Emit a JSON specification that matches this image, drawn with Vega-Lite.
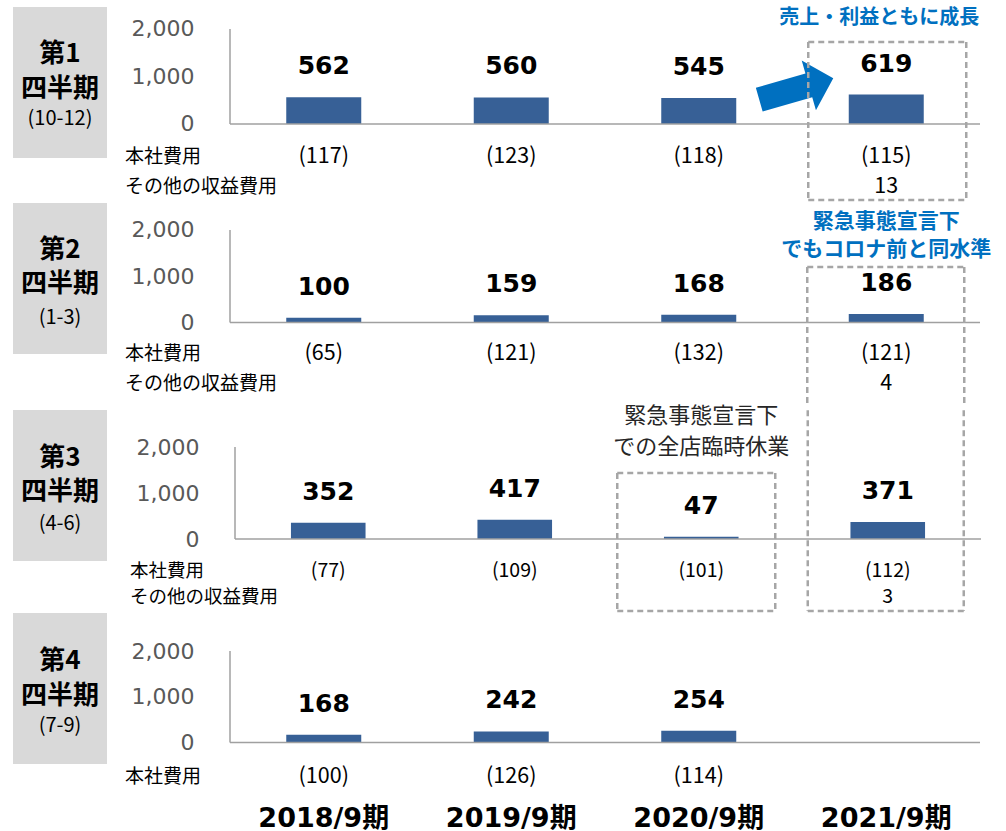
{
  "$schema": "https://vega.github.io/schema/vega-lite/v6.json",
  "padding": {"left": 13, "top": 0, "right": 0, "bottom": 0},
  "background": "white",
  "spacing": 0,
  "datasets": {
    "d": [
      {"q": "Q1", "year": "2018/9期", "profit": 562, "hq": -117, "other": null},
      {"q": "Q1", "year": "2019/9期", "profit": 560, "hq": -123, "other": null},
      {"q": "Q1", "year": "2020/9期", "profit": 545, "hq": -118, "other": null},
      {"q": "Q1", "year": "2021/9期", "profit": 619, "hq": -115, "other": 13},
      {"q": "Q2", "year": "2018/9期", "profit": 100, "hq": -65, "other": null},
      {"q": "Q2", "year": "2019/9期", "profit": 159, "hq": -121, "other": null},
      {"q": "Q2", "year": "2020/9期", "profit": 168, "hq": -132, "other": null},
      {"q": "Q2", "year": "2021/9期", "profit": 186, "hq": -121, "other": 4},
      {"q": "Q3", "year": "2018/9期", "profit": 352, "hq": -77, "other": null},
      {"q": "Q3", "year": "2019/9期", "profit": 417, "hq": -109, "other": null},
      {"q": "Q3", "year": "2020/9期", "profit": 47, "hq": -101, "other": null},
      {"q": "Q3", "year": "2021/9期", "profit": 371, "hq": -112, "other": 3},
      {"q": "Q4", "year": "2018/9期", "profit": 168, "hq": -100, "other": null},
      {"q": "Q4", "year": "2019/9期", "profit": 242, "hq": -126, "other": null},
      {"q": "Q4", "year": "2020/9期", "profit": 254, "hq": -114, "other": null}
    ]
  },
  "vconcat": [
    {
      "spacing": 18,
      "hconcat": [
        {
          "width": 94, "height": 202,
          "data": {"values": [{}]},
          "layer": [
            {"mark": {"type": "rect", "color": "#D9D9D9"},
             "encoding": {"x": {"datum": 0, "type": "quantitative", "scale": {"domain": [0, 1]}, "axis": null}, "x2": {"datum": 1},
                          "y": {"datum": 2463, "type": "quantitative", "scale": {"domain": [-1642, 2610], "nice": false, "zero": false}, "axis": null}, "y2": {"datum": -716}}},
            {"mark": {"type": "text", "text": "第1", "font": "Noto Sans CJK JP", "fontWeight": "bold", "fontSize": 26, "baseline": "middle"},
             "encoding": {"x": {"datum": 0.5, "type": "quantitative"}, "y": {"datum": 1470, "type": "quantitative"}}},
            {"mark": {"type": "text", "text": "四半期", "font": "Noto Sans CJK JP", "fontWeight": "bold", "fontSize": 26, "baseline": "middle"},
             "encoding": {"x": {"datum": 0.5, "type": "quantitative"}, "y": {"datum": 740, "type": "quantitative"}}},
            {"mark": {"type": "text", "text": "(10-12)", "font": "Noto Sans CJK JP", "fontSize": 20, "baseline": "middle"},
             "encoding": {"x": {"datum": 0.5, "type": "quantitative"}, "y": {"datum": 110, "type": "quantitative"}}}
          ]
        },
        {
          "width": 750, "height": 202,
          "layer": [
            {"data": {"name": "d"}, "transform": [{"filter": "datum.q === 'Q1'"}],
             "mark": {"type": "bar", "color": "#376096"},
             "encoding": {
               "x": {"field": "year", "type": "nominal", "scale": {"domain": ["2018/9期", "2019/9期", "2020/9期", "2021/9期"], "paddingInner": 0.6, "paddingOuter": 0.3}, "axis": null},
               "y": {"field": "profit", "type": "quantitative", "scale": {"domain": [-1642, 2610], "nice": false, "zero": false},
                     "axis": {"values": [0, 1000, 2000], "format": ",.0f", "domain": false, "ticks": false, "grid": false, "labelFont": "DejaVu Sans", "labelFontSize": 22, "labelColor": "#595959", "labelPadding": 36, "title": null}},
               "y2": {"datum": 0}}},
            {"data": {"name": "d"}, "transform": [{"filter": "datum.q === 'Q1'"}],
             "mark": {"type": "text", "font": "DejaVu Sans", "fontWeight": "bold", "fontSize": 25, "dy": -31, "baseline": "middle", "color": "#000000"},
             "encoding": {"x": {"field": "year", "type": "nominal"}, "y": {"field": "profit", "type": "quantitative"}, "text": {"field": "profit", "type": "quantitative"}}},
            {"data": {"name": "d"}, "transform": [{"filter": "datum.q === 'Q1'"}],
             "mark": {"type": "text", "font": "Noto Sans CJK JP", "fontSize": 21.5, "baseline": "middle", "color": "#000000"},
             "encoding": {"x": {"field": "year", "type": "nominal"}, "y": {"datum": -695}, "text": {"field": "hq", "type": "quantitative", "format": "(d"}}},
            {"data": {"name": "d"}, "transform": [{"filter": "datum.q === 'Q1' && datum.other != null"}],
             "mark": {"type": "text", "font": "Noto Sans CJK JP", "fontSize": 21.5, "baseline": "middle", "color": "#000000"},
             "encoding": {"x": {"field": "year", "type": "nominal"}, "y": {"datum": -1326}, "text": {"field": "other", "type": "quantitative"}}},
            {"data": {"values": [{}]}, "mark": {"type": "rule", "color": "#A0A0A0", "strokeWidth": 1.5}, "encoding": {"y": {"datum": 0}}},
            {"data": {"values": [{}]}, "mark": {"type": "rule", "color": "#A0A0A0", "strokeWidth": 1.5, "xOffset": -93.75},
             "encoding": {"x": {"datum": "2018/9期"}, "y": {"datum": 0}, "y2": {"datum": 2000}}},
            {"data": {"values": [{}]}, "mark": {"type": "text", "text": "本社費用", "font": "Noto Sans CJK JP", "fontSize": 19, "align": "left", "baseline": "middle", "dx": -198.75, "color": "#000000"},
             "encoding": {"x": {"datum": "2018/9期"}, "y": {"datum": -695}}},
            {"data": {"values": [{}]}, "mark": {"type": "text", "text": "その他の収益費用", "font": "Noto Sans CJK JP", "fontSize": 19, "align": "left", "baseline": "middle", "dx": -198.75, "color": "#000000"},
             "encoding": {"x": {"datum": "2018/9期"}, "y": {"datum": -1326}}},
            {"data": {"values": [{}]}, "mark": {"type": "text", "text": "売上・利益ともに成長", "font": "Noto Sans CJK JP", "fontWeight": "bold", "fontSize": 20, "baseline": "middle", "dx": -7, "color": "#0070C0"},
             "encoding": {"x": {"datum": "2021/9期"}, "y": {"datum": 2230}}},
            {"data": {"values": [{}]}, "mark": {"type": "point", "shape": "M -1 -0.32 L 0.34 -0.32 L 0.34 -0.67 L 1 0 L 0.34 0.67 L 0.34 0.32 L -1 0.32 Z", "filled": true, "color": "#0070C0", "opacity": 1, "size": 5929, "angle": -16, "xOffset": -90, "strokeWidth": 0},
             "encoding": {"x": {"datum": "2021/9期"}, "y": {"datum": 737}}},
            {"data": {"values": [{}]}, "mark": {"type": "rule", "color": "#A6A6A6", "strokeWidth": 2.5, "strokeDash": [6, 4], "xOffset": -78, "x2Offset": 80},
             "encoding": {"x": {"datum": "2021/9期"}, "x2": {"datum": "2021/9期"}, "y": {"datum": 1726}}},
            {"data": {"values": [{}]}, "mark": {"type": "rule", "color": "#A6A6A6", "strokeWidth": 2.5, "strokeDash": [6, 4], "xOffset": -78, "x2Offset": 80},
             "encoding": {"x": {"datum": "2021/9期"}, "x2": {"datum": "2021/9期"}, "y": {"datum": -1600}}},
            {"data": {"values": [{}]}, "mark": {"type": "rule", "color": "#A6A6A6", "strokeWidth": 2.5, "strokeDash": [6, 4], "xOffset": -78},
             "encoding": {"x": {"datum": "2021/9期"}, "y": {"datum": 1726}, "y2": {"datum": -1600}}},
            {"data": {"values": [{}]}, "mark": {"type": "rule", "color": "#A6A6A6", "strokeWidth": 2.5, "strokeDash": [6, 4], "xOffset": 80},
             "encoding": {"x": {"datum": "2021/9期"}, "y": {"datum": 1726}, "y2": {"datum": -1600}}}
          ]
        }
      ]
    },
    {
      "spacing": 18,
      "hconcat": [
        {
          "width": 94, "height": 202,
          "data": {"values": [{}]},
          "layer": [
            {"mark": {"type": "rect", "color": "#D9D9D9"},
             "encoding": {"x": {"datum": 0, "type": "quantitative", "scale": {"domain": [0, 1]}, "axis": null}, "x2": {"datum": 1},
                          "y": {"datum": 2583, "type": "quantitative", "scale": {"domain": [-1762, 2605], "nice": false, "zero": false}, "axis": null}, "y2": {"datum": -681}}},
            {"mark": {"type": "text", "text": "第2", "font": "Noto Sans CJK JP", "fontWeight": "bold", "fontSize": 26, "baseline": "middle"},
             "encoding": {"x": {"datum": 0.5, "type": "quantitative"}, "y": {"datum": 1575, "type": "quantitative"}}},
            {"mark": {"type": "text", "text": "四半期", "font": "Noto Sans CJK JP", "fontWeight": "bold", "fontSize": 26, "baseline": "middle"},
             "encoding": {"x": {"datum": 0.5, "type": "quantitative"}, "y": {"datum": 830, "type": "quantitative"}}},
            {"mark": {"type": "text", "text": "(1-3)", "font": "Noto Sans CJK JP", "fontSize": 20, "baseline": "middle"},
             "encoding": {"x": {"datum": 0.5, "type": "quantitative"}, "y": {"datum": 105, "type": "quantitative"}}}
          ]
        },
        {
          "width": 750, "height": 202,
          "layer": [
            {"data": {"name": "d"}, "transform": [{"filter": "datum.q === 'Q2'"}],
             "mark": {"type": "bar", "color": "#376096"},
             "encoding": {
               "x": {"field": "year", "type": "nominal", "scale": {"domain": ["2018/9期", "2019/9期", "2020/9期", "2021/9期"], "paddingInner": 0.6, "paddingOuter": 0.3}, "axis": null},
               "y": {"field": "profit", "type": "quantitative", "scale": {"domain": [-1762, 2605], "nice": false, "zero": false},
                     "axis": {"values": [0, 1000, 2000], "format": ",.0f", "domain": false, "ticks": false, "grid": false, "labelFont": "DejaVu Sans", "labelFontSize": 22, "labelColor": "#595959", "labelPadding": 36, "title": null}},
               "y2": {"datum": 0}}},
            {"data": {"name": "d"}, "transform": [{"filter": "datum.q === 'Q2'"}],
             "mark": {"type": "text", "font": "DejaVu Sans", "fontWeight": "bold", "fontSize": 25, "dy": -31, "baseline": "middle", "color": "#000000"},
             "encoding": {"x": {"field": "year", "type": "nominal"}, "y": {"field": "profit", "type": "quantitative"}, "text": {"field": "profit", "type": "quantitative"}}},
            {"data": {"name": "d"}, "transform": [{"filter": "datum.q === 'Q2'"}],
             "mark": {"type": "text", "font": "Noto Sans CJK JP", "fontSize": 21.5, "baseline": "middle", "color": "#000000"},
             "encoding": {"x": {"field": "year", "type": "nominal"}, "y": {"datum": -681}, "text": {"field": "hq", "type": "quantitative", "format": "(d"}}},
            {"data": {"name": "d"}, "transform": [{"filter": "datum.q === 'Q2' && datum.other != null"}],
             "mark": {"type": "text", "font": "Noto Sans CJK JP", "fontSize": 21.5, "baseline": "middle", "color": "#000000"},
             "encoding": {"x": {"field": "year", "type": "nominal"}, "y": {"datum": -1330}, "text": {"field": "other", "type": "quantitative"}}},
            {"data": {"values": [{}]}, "mark": {"type": "rule", "color": "#A0A0A0", "strokeWidth": 1.5}, "encoding": {"y": {"datum": 0}}},
            {"data": {"values": [{}]}, "mark": {"type": "rule", "color": "#A0A0A0", "strokeWidth": 1.5, "xOffset": -93.75},
             "encoding": {"x": {"datum": "2018/9期"}, "y": {"datum": 0}, "y2": {"datum": 2000}}},
            {"data": {"values": [{}]}, "mark": {"type": "text", "text": "本社費用", "font": "Noto Sans CJK JP", "fontSize": 19, "align": "left", "baseline": "middle", "dx": -198.75, "color": "#000000"},
             "encoding": {"x": {"datum": "2018/9期"}, "y": {"datum": -681}}},
            {"data": {"values": [{}]}, "mark": {"type": "text", "text": "その他の収益費用", "font": "Noto Sans CJK JP", "fontSize": 19, "align": "left", "baseline": "middle", "dx": -198.75, "color": "#000000"},
             "encoding": {"x": {"datum": "2018/9期"}, "y": {"datum": -1330}}},
            {"data": {"values": [{}]}, "mark": {"type": "text", "text": "緊急事態宣言下", "font": "Noto Sans CJK JP", "fontWeight": "bold", "fontSize": 21, "baseline": "middle", "color": "#0070C0"},
             "encoding": {"x": {"datum": "2021/9期"}, "y": {"datum": 2173}}},
            {"data": {"values": [{}]}, "mark": {"type": "text", "text": "でもコロナ前と同水準", "font": "Noto Sans CJK JP", "fontWeight": "bold", "fontSize": 21, "baseline": "middle", "color": "#0070C0"},
             "encoding": {"x": {"datum": "2021/9期"}, "y": {"datum": 1567}}},
            {"data": {"values": [{}]}, "mark": {"type": "rule", "color": "#A6A6A6", "strokeWidth": 2.5, "strokeDash": [6, 4], "xOffset": -79, "x2Offset": 78},
             "encoding": {"x": {"datum": "2021/9期"}, "x2": {"datum": "2021/9期"}, "y": {"datum": 1200}}},
            {"data": {"values": [{}]}, "mark": {"type": "rule", "color": "#A6A6A6", "strokeWidth": 2.5, "strokeDash": [6, 4], "xOffset": -79},
             "encoding": {"x": {"datum": "2021/9期"}, "y": {"datum": 1200}, "y2": {"datum": -1740}}},
            {"data": {"values": [{}]}, "mark": {"type": "rule", "color": "#A6A6A6", "strokeWidth": 2.5, "strokeDash": [6, 4], "xOffset": 78},
             "encoding": {"x": {"datum": "2021/9期"}, "y": {"datum": 1200}, "y2": {"datum": -1740}}}
          ]
        }
      ]
    },
    {
      "spacing": 23,
      "hconcat": [
        {
          "width": 94, "height": 204,
          "data": {"values": [{}]},
          "layer": [
            {"mark": {"type": "rect", "color": "#D9D9D9"},
             "encoding": {"x": {"datum": 0, "type": "quantitative", "scale": {"domain": [0, 1]}, "axis": null}, "x2": {"datum": 1},
                          "y": {"datum": 2804, "type": "quantitative", "scale": {"domain": [-1587, 2848], "nice": false, "zero": false}, "axis": null}, "y2": {"datum": -478}}},
            {"mark": {"type": "text", "text": "第3", "font": "Noto Sans CJK JP", "fontWeight": "bold", "fontSize": 26, "baseline": "middle"},
             "encoding": {"x": {"datum": 0.5, "type": "quantitative"}, "y": {"datum": 1755, "type": "quantitative"}}},
            {"mark": {"type": "text", "text": "四半期", "font": "Noto Sans CJK JP", "fontWeight": "bold", "fontSize": 26, "baseline": "middle"},
             "encoding": {"x": {"datum": 0.5, "type": "quantitative"}, "y": {"datum": 1020, "type": "quantitative"}}},
            {"mark": {"type": "text", "text": "(4-6)", "font": "Noto Sans CJK JP", "fontSize": 20, "baseline": "middle"},
             "encoding": {"x": {"datum": 0.5, "type": "quantitative"}, "y": {"datum": 335, "type": "quantitative"}}}
          ]
        },
        {
          "width": 746, "height": 204,
          "layer": [
            {"data": {"name": "d"}, "transform": [{"filter": "datum.q === 'Q3'"}],
             "mark": {"type": "bar", "color": "#376096"},
             "encoding": {
               "x": {"field": "year", "type": "nominal", "scale": {"domain": ["2018/9期", "2019/9期", "2020/9期", "2021/9期"], "paddingInner": 0.6, "paddingOuter": 0.3}, "axis": null},
               "y": {"field": "profit", "type": "quantitative", "scale": {"domain": [-1587, 2848], "nice": false, "zero": false},
                     "axis": {"values": [0, 1000, 2000], "format": ",.0f", "domain": false, "ticks": false, "grid": false, "labelFont": "DejaVu Sans", "labelFontSize": 22, "labelColor": "#595959", "labelPadding": 36, "title": null}},
               "y2": {"datum": 0}}},
            {"data": {"name": "d"}, "transform": [{"filter": "datum.q === 'Q3'"}],
             "mark": {"type": "text", "font": "DejaVu Sans", "fontWeight": "bold", "fontSize": 25, "dy": -31, "baseline": "middle", "color": "#000000"},
             "encoding": {"x": {"field": "year", "type": "nominal"}, "y": {"field": "profit", "type": "quantitative"}, "text": {"field": "profit", "type": "quantitative"}}},
            {"data": {"name": "d"}, "transform": [{"filter": "datum.q === 'Q3'"}],
             "mark": {"type": "text", "font": "Noto Sans CJK JP", "fontSize": 19.5, "baseline": "middle", "color": "#000000"},
             "encoding": {"x": {"field": "year", "type": "nominal"}, "y": {"datum": -700}, "text": {"field": "hq", "type": "quantitative", "format": "(d"}}},
            {"data": {"name": "d"}, "transform": [{"filter": "datum.q === 'Q3' && datum.other != null"}],
             "mark": {"type": "text", "font": "Noto Sans CJK JP", "fontSize": 19.5, "baseline": "middle", "color": "#000000"},
             "encoding": {"x": {"field": "year", "type": "nominal"}, "y": {"datum": -1265}, "text": {"field": "other", "type": "quantitative"}}},
            {"data": {"values": [{}]}, "mark": {"type": "rule", "color": "#A0A0A0", "strokeWidth": 1.5}, "encoding": {"y": {"datum": 0}}},
            {"data": {"values": [{}]}, "mark": {"type": "rule", "color": "#A0A0A0", "strokeWidth": 1.5, "xOffset": -93.25},
             "encoding": {"x": {"datum": "2018/9期"}, "y": {"datum": 0}, "y2": {"datum": 2000}}},
            {"data": {"values": [{}]}, "mark": {"type": "text", "text": "本社費用", "font": "Noto Sans CJK JP", "fontSize": 18.5, "align": "left", "baseline": "middle", "dx": -198.25, "color": "#000000"},
             "encoding": {"x": {"datum": "2018/9期"}, "y": {"datum": -700}}},
            {"data": {"values": [{}]}, "mark": {"type": "text", "text": "その他の収益費用", "font": "Noto Sans CJK JP", "fontSize": 18.5, "align": "left", "baseline": "middle", "dx": -198.25, "color": "#000000"},
             "encoding": {"x": {"datum": "2018/9期"}, "y": {"datum": -1265}}},
            {"data": {"values": [{}]}, "mark": {"type": "text", "text": "緊急事態宣言下", "font": "Noto Sans CJK JP", "fontSize": 22, "baseline": "middle", "color": "#262626"},
             "encoding": {"x": {"datum": "2020/9期"}, "y": {"datum": 2674}}},
            {"data": {"values": [{}]}, "mark": {"type": "text", "text": "での全店臨時休業", "font": "Noto Sans CJK JP", "fontSize": 22, "baseline": "middle", "color": "#262626"},
             "encoding": {"x": {"datum": "2020/9期"}, "y": {"datum": 2000}}},
            {"data": {"values": [{}]}, "mark": {"type": "rule", "color": "#A6A6A6", "strokeWidth": 2.5, "strokeDash": [6, 4], "xOffset": -80},
             "encoding": {"x": {"datum": "2021/9期"}, "y": {"datum": 2800}, "y2": {"datum": -1565}}},
            {"data": {"values": [{}]}, "mark": {"type": "rule", "color": "#A6A6A6", "strokeWidth": 2.5, "strokeDash": [6, 4], "xOffset": 76},
             "encoding": {"x": {"datum": "2021/9期"}, "y": {"datum": 2800}, "y2": {"datum": -1565}}},
            {"data": {"values": [{}]}, "mark": {"type": "rule", "color": "#A6A6A6", "strokeWidth": 2.5, "strokeDash": [6, 4], "xOffset": -80, "x2Offset": 76},
             "encoding": {"x": {"datum": "2021/9期"}, "x2": {"datum": "2021/9期"}, "y": {"datum": -1565}}},
            {"data": {"values": [{}]}, "mark": {"type": "rule", "color": "#A6A6A6", "strokeWidth": 2.5, "strokeDash": [6, 4], "xOffset": -84, "x2Offset": 74},
             "encoding": {"x": {"datum": "2020/9期"}, "x2": {"datum": "2020/9期"}, "y": {"datum": 1435}}},
            {"data": {"values": [{}]}, "mark": {"type": "rule", "color": "#A6A6A6", "strokeWidth": 2.5, "strokeDash": [6, 4], "xOffset": -84, "x2Offset": 74},
             "encoding": {"x": {"datum": "2020/9期"}, "x2": {"datum": "2020/9期"}, "y": {"datum": -1565}}},
            {"data": {"values": [{}]}, "mark": {"type": "rule", "color": "#A6A6A6", "strokeWidth": 2.5, "strokeDash": [6, 4], "xOffset": -84},
             "encoding": {"x": {"datum": "2020/9期"}, "y": {"datum": 1435}, "y2": {"datum": -1565}}},
            {"data": {"values": [{}]}, "mark": {"type": "rule", "color": "#A6A6A6", "strokeWidth": 2.5, "strokeDash": [6, 4], "xOffset": 74},
             "encoding": {"x": {"datum": "2020/9期"}, "y": {"datum": 1435}, "y2": {"datum": -1565}}}
          ]
        }
      ]
    },
    {
      "spacing": 18,
      "hconcat": [
        {
          "width": 94, "height": 182,
          "data": {"values": [{}]},
          "layer": [
            {"mark": {"type": "rect", "color": "#D9D9D9"},
             "encoding": {"x": {"datum": 0, "type": "quantitative", "scale": {"domain": [0, 1]}, "axis": null}, "x2": {"datum": 1},
                          "y": {"datum": 2831, "type": "quantitative", "scale": {"domain": [-1148, 2831], "nice": false, "zero": false}, "axis": null}, "y2": {"datum": -470}}},
            {"mark": {"type": "text", "text": "第4", "font": "Noto Sans CJK JP", "fontWeight": "bold", "fontSize": 26, "baseline": "middle"},
             "encoding": {"x": {"datum": 0.5, "type": "quantitative"}, "y": {"datum": 1775, "type": "quantitative"}}},
            {"mark": {"type": "text", "text": "四半期", "font": "Noto Sans CJK JP", "fontWeight": "bold", "fontSize": 26, "baseline": "middle"},
             "encoding": {"x": {"datum": 0.5, "type": "quantitative"}, "y": {"datum": 1015, "type": "quantitative"}}},
            {"mark": {"type": "text", "text": "(7-9)", "font": "Noto Sans CJK JP", "fontSize": 20, "baseline": "middle"},
             "encoding": {"x": {"datum": 0.5, "type": "quantitative"}, "y": {"datum": 370, "type": "quantitative"}}}
          ]
        },
        {
          "width": 750, "height": 182,
          "layer": [
            {"data": {"name": "d"}, "transform": [{"filter": "datum.q === 'Q4'"}],
             "mark": {"type": "bar", "color": "#376096"},
             "encoding": {
               "x": {"field": "year", "type": "nominal", "scale": {"domain": ["2018/9期", "2019/9期", "2020/9期", "2021/9期"], "paddingInner": 0.6, "paddingOuter": 0.3},
                     "axis": {"orient": "bottom", "domain": false, "ticks": false, "labelAngle": 0, "labelFont": "DejaVu Sans, Noto Sans CJK JP", "labelFontSize": 27, "labelFontWeight": "bold", "labelColor": "#000000", "labelPadding": 10, "title": null}},
               "y": {"field": "profit", "type": "quantitative", "scale": {"domain": [-1148, 2831], "nice": false, "zero": false},
                     "axis": {"values": [0, 1000, 2000], "format": ",.0f", "domain": false, "ticks": false, "grid": false, "labelFont": "DejaVu Sans", "labelFontSize": 22, "labelColor": "#595959", "labelPadding": 36, "title": null}},
               "y2": {"datum": 0}}},
            {"data": {"name": "d"}, "transform": [{"filter": "datum.q === 'Q4'"}],
             "mark": {"type": "text", "font": "DejaVu Sans", "fontWeight": "bold", "fontSize": 25, "dy": -31, "baseline": "middle", "color": "#000000"},
             "encoding": {"x": {"field": "year", "type": "nominal"}, "y": {"field": "profit", "type": "quantitative"}, "text": {"field": "profit", "type": "quantitative"}}},
            {"data": {"name": "d"}, "transform": [{"filter": "datum.q === 'Q4'"}],
             "mark": {"type": "text", "font": "Noto Sans CJK JP", "fontSize": 21.5, "baseline": "middle", "color": "#000000"},
             "encoding": {"x": {"field": "year", "type": "nominal"}, "y": {"datum": -754}, "text": {"field": "hq", "type": "quantitative", "format": "(d"}}},
            {"data": {"values": [{}]}, "mark": {"type": "rule", "color": "#A0A0A0", "strokeWidth": 1.5}, "encoding": {"y": {"datum": 0}}},
            {"data": {"values": [{}]}, "mark": {"type": "rule", "color": "#A0A0A0", "strokeWidth": 1.5, "xOffset": -93.75},
             "encoding": {"x": {"datum": "2018/9期"}, "y": {"datum": 0}, "y2": {"datum": 2000}}},
            {"data": {"values": [{}]}, "mark": {"type": "text", "text": "本社費用", "font": "Noto Sans CJK JP", "fontSize": 19, "align": "left", "baseline": "middle", "dx": -198.75, "color": "#000000"},
             "encoding": {"x": {"datum": "2018/9期"}, "y": {"datum": -754}}}
          ]
        }
      ]
    }
  ],
  "config": {
    "view": {"stroke": null},
    "font": "Noto Sans CJK JP"
  }
}
